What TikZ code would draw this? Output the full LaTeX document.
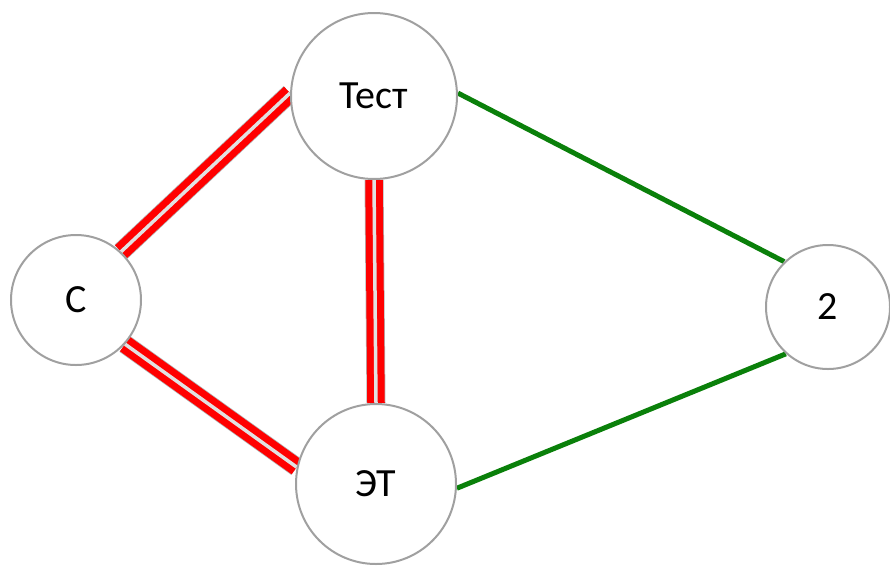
\documentclass[tikz,border=0pt]{standalone}
\usepackage{fontspec}
\setmainfont{Carlito}
\usetikzlibrary{backgrounds}
\definecolor{circgray}{RGB}{160,160,160}
\definecolor{linegreen}{RGB}{10,128,10}
\definecolor{gapcol}{RGB}{225,225,225}
\begin{document}
\begin{tikzpicture}[x=1pt,y=-1pt,
  vtx/.style={circle, draw=circgray, line width=2pt, fill=white, inner sep=0pt, font=\fontsize{40}{48}\selectfont},
  redline/.style={draw=gray!60, line width=19pt, postaction={draw=red, line width=17.5pt}, postaction={draw=gapcol, line width=3.5pt}},
  greenline/.style={draw=linegreen, line width=5pt}]
\useasboundingbox (0,0) rectangle (890,565);
\node[vtx, minimum size=166pt] (t) at (374,96) {Тест};
\node[vtx, minimum size=130pt] (c) at (76,300) {С};
\node[vtx, minimum size=160pt] (e) at (376,484) {ЭТ};
\node[vtx, minimum size=124pt] (n) at (828,307) {2};
\begin{scope}[on background layer]
\draw[redline] (c.47) -- (t.178);
\draw[redline] (c.-42) -- (e.168);
\draw[redline] (t.south) -- (e.north);
\draw[greenline] (t.2) -- (n.134);
\draw[greenline] (e.-3) -- (n.228);
\end{scope}
\end{tikzpicture}
\end{document}
